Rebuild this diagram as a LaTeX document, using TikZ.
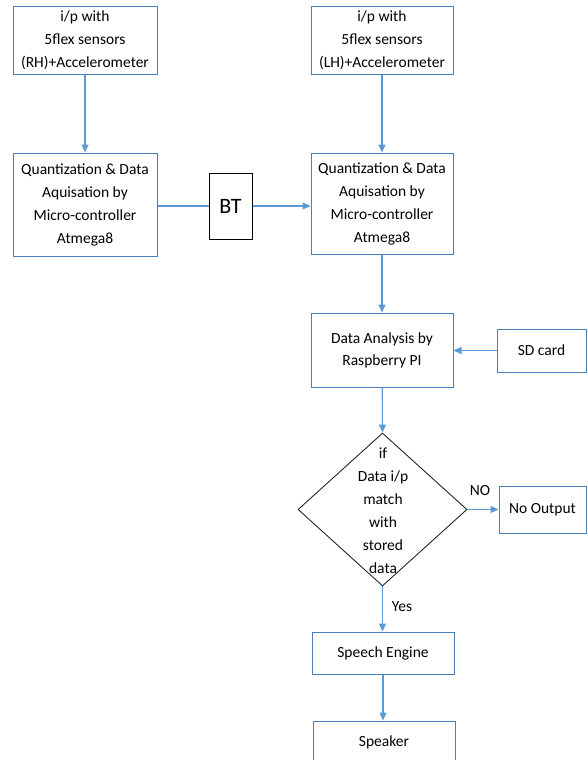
\documentclass[tikz,border=0pt]{standalone}
\usepackage{fontspec}
\setmainfont{Carlito}
\usetikzlibrary{shapes.geometric,arrows.meta}
\definecolor{boxblue}{RGB}{74,126,187}
\definecolor{lineblue}{RGB}{91,155,213}
\tikzset{
  txt/.style={font=\fontsize{15.5}{23}\selectfont, align=center, text=black},
  box/.style={draw=boxblue, line width=1pt, inner sep=0pt, txt},
  conn/.style={draw=lineblue, line width=1.1pt},
  arr/.style={conn, -{Triangle[length=8pt,width=7pt]}},
}
\begin{document}
\begin{tikzpicture}[x=1pt,y=-1pt]
\useasboundingbox (0,0) rectangle (588,760);
\clip (0,0) rectangle (588,760);
\node[box, minimum width=144, minimum height=68] (rh) at (85,40.5) {i/p with\\5flex sensors\\(RH)+Accelerometer};
\node[box, minimum width=142, minimum height=68] (lh) at (382,40.5) {i/p with\\5flex sensors\\(LH)+Accelerometer};
\node[box, minimum width=144, minimum height=103] (lq) at (85,204.5) {Quantization \& Data\\Aquisation by\\Micro-controller\\Atmega8};
\node[box, draw=black, minimum width=43, minimum height=66, font=\fontsize{22}{26}\selectfont] (bt) at (230.5,206) {BT};
\node[box, minimum width=142, minimum height=101] (rq) at (382,203.5) {Quantization \& Data\\Aquisation by\\Micro-controller\\Atmega8};
\node[box, minimum width=142, minimum height=74, font=\fontsize{15.5}{22}\selectfont] (da) at (382,350) {Data Analysis by\\Raspberry PI};
\node[box, minimum width=89, minimum height=43] (sd) at (541.5,350.5) {SD card};
\node[draw=black!85, line width=0.9pt, diamond, inner sep=0pt, minimum width=169, minimum height=153] (dec) at (382.5,509.5) {};
\node[txt] (dectxt) at (383,511) {if\\Data i/p\\match\\with\\stored\\data};
\node[box, minimum width=87, minimum height=47] (no) at (542.5,509.5) {No Output};
\node[box, minimum width=142, minimum height=42] (se) at (383,653) {Speech Engine};
\node[box, minimum width=142, minimum height=42] (sp) at (384,742) {Speaker};
\node[txt] (nolbl) at (480,491) {NO};
\node[txt] (yeslbl) at (402,607) {Yes};
\draw[arr] (rh) -- (lq);
\draw[arr] (lh) -- (rq);
\draw[conn] (lq.east |- bt.west) -- (bt.west);
\draw[arr] (bt.east) -- (bt.east -| rq.west);
\draw[arr] (rq) -- (da);
\draw[arr] (sd) -- (sd -| da.east);
\draw[arr] (da) -- (dec.north);
\draw[arr] (dec.east) -- (no.west |- dec.east);
\draw[arr] (dec.south) -- (dec.south |- se.north);
\draw[arr] (se.south) -- (se.south |- sp.north);
\end{tikzpicture}
\end{document}
